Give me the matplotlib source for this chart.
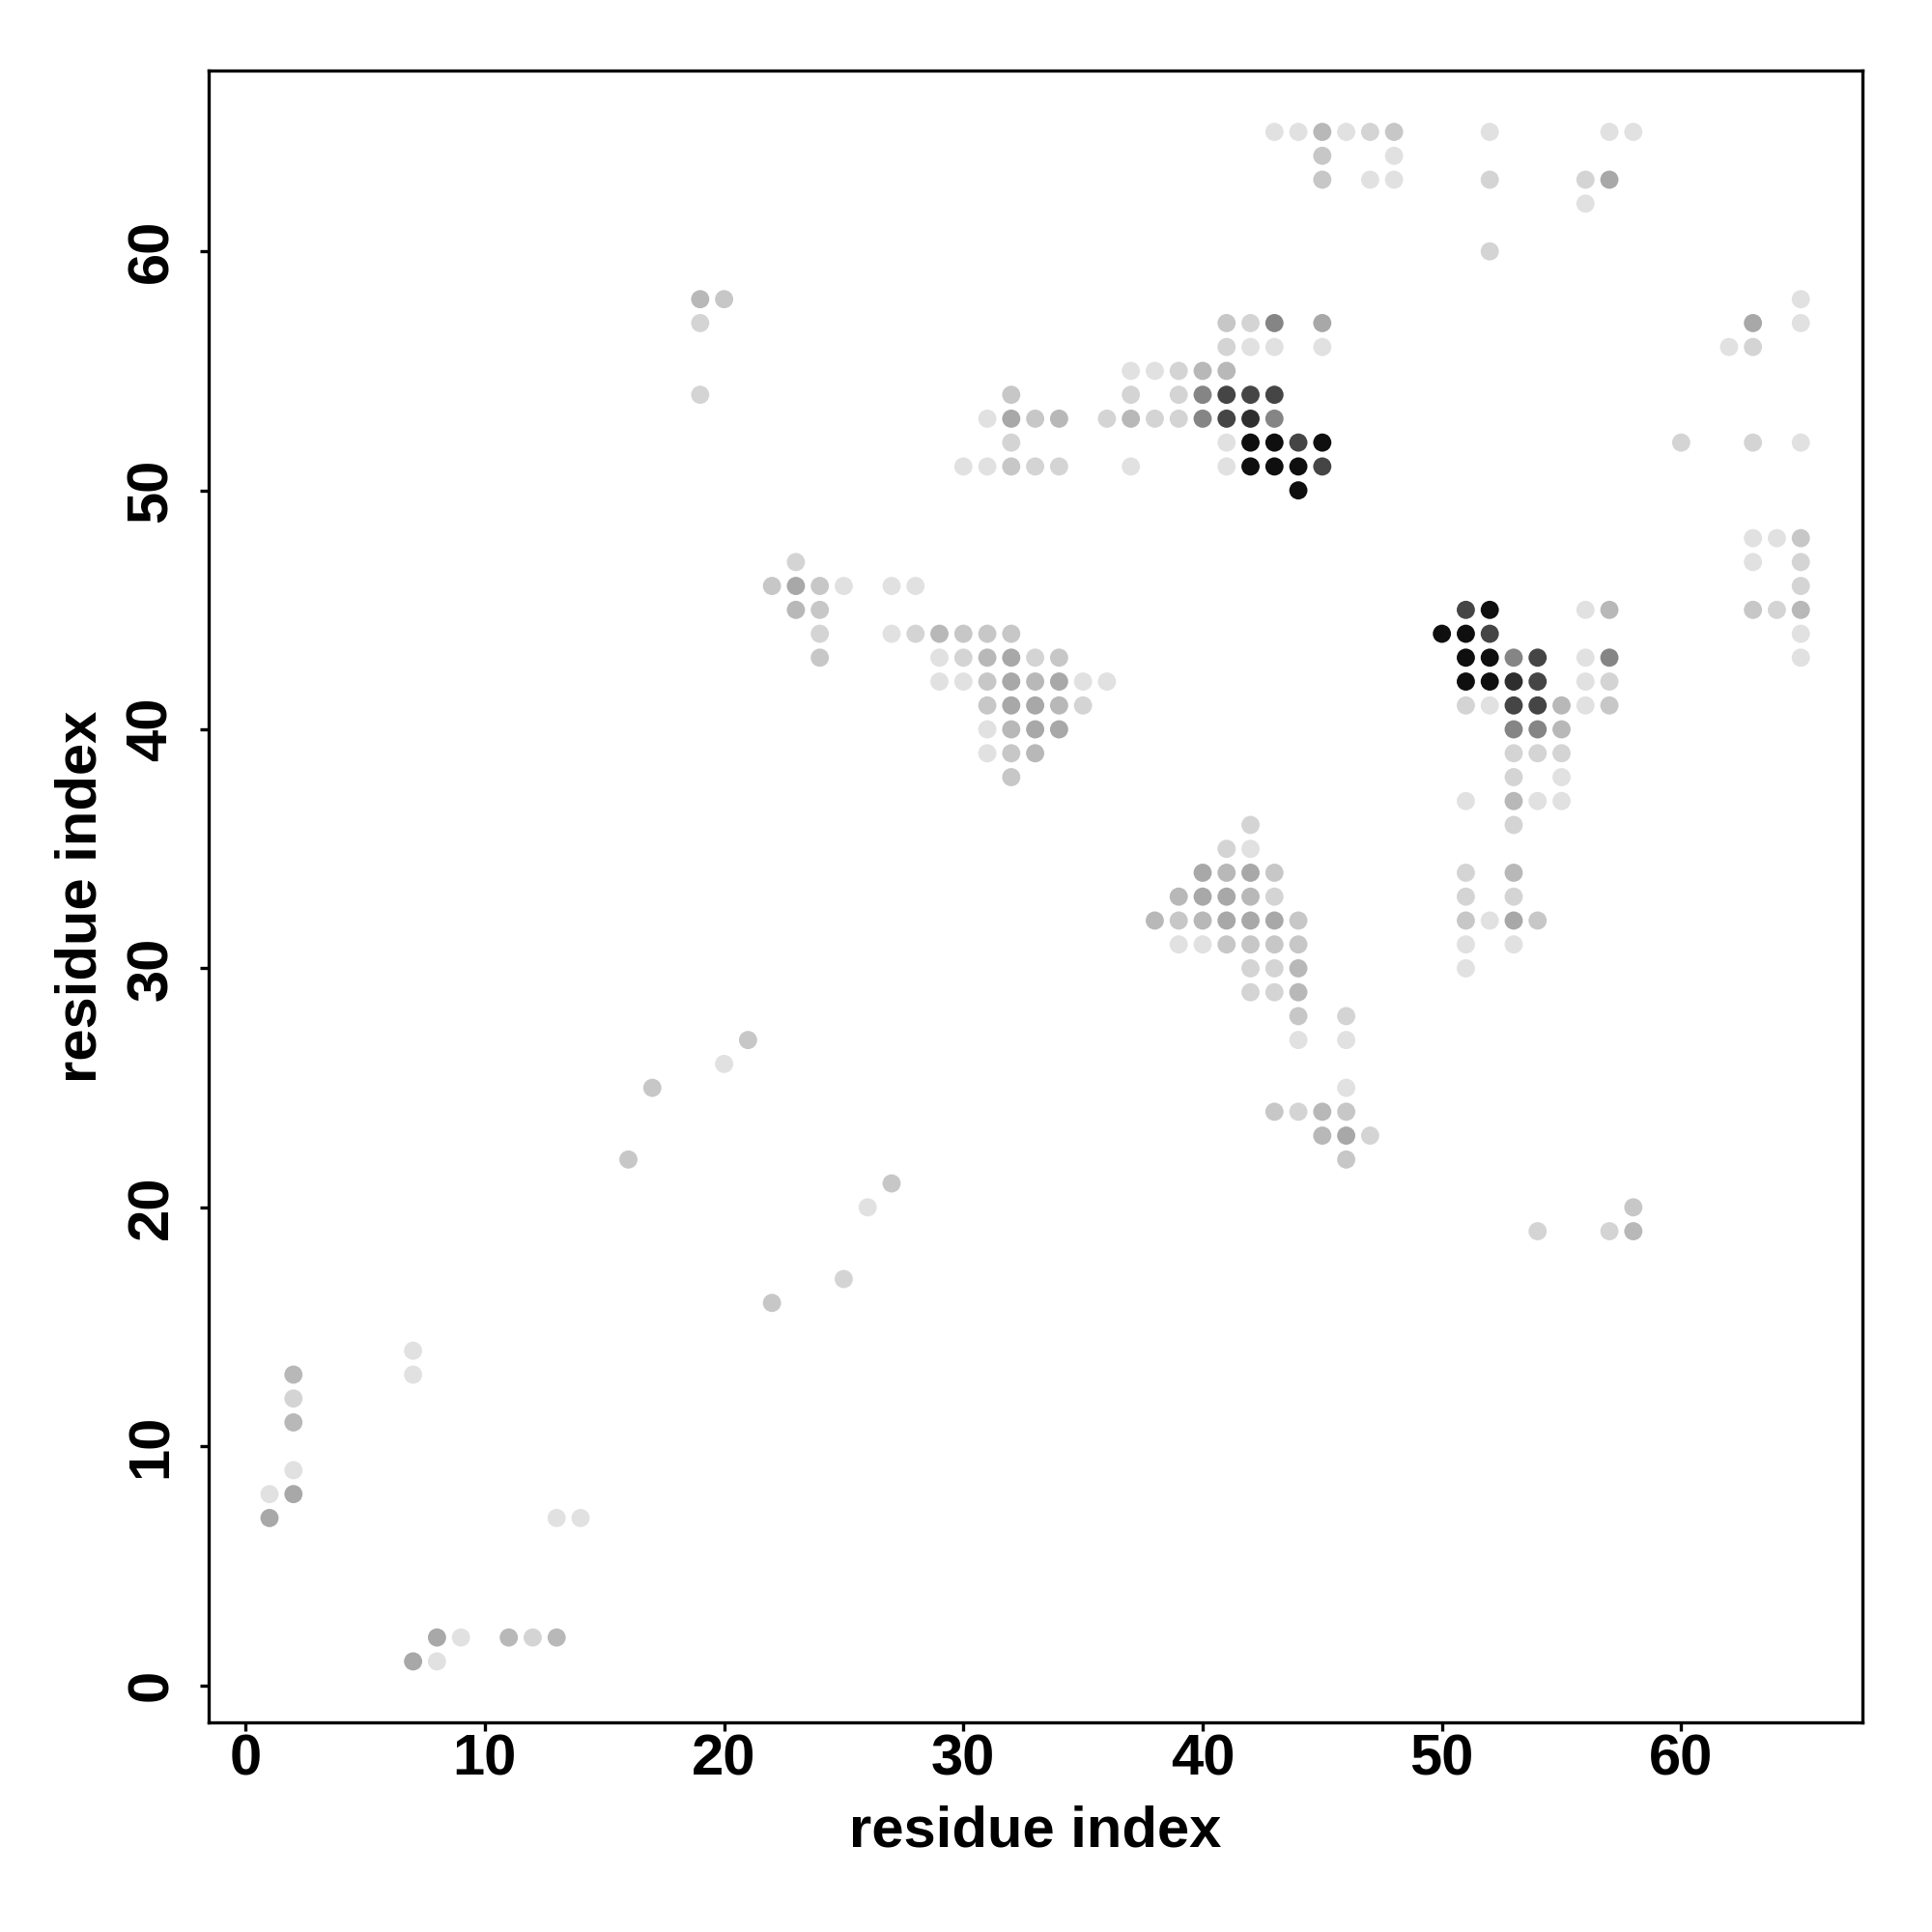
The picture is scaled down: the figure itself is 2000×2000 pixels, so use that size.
import numpy as np
import matplotlib
matplotlib.use("Agg")
import matplotlib.pyplot as plt

# predicted contacts: residue i, residue j, probability bin (1 = weak ... 9 = strong)
res_i = [
    1, 1, 2, 2, 2, 2, 2,
    7, 7, 13, 14,
    7, 8, 8, 9, 11, 12, 13,
    16, 17, 20, 21, 22, 25, 26, 27,
    19, 20, 19, 19,
    23, 22, 23, 24, 25, 27, 28, 23, 24, 24, 24,
    27, 28, 29, 30, 31, 32,
    29, 30, 31, 32, 33, 34,
    29, 30, 31, 32, 33, 34, 35, 36,
    31, 32, 33, 34, 35,
    31, 32, 33, 34,
    31, 32, 33,
    32,
    32, 31, 32, 33, 34, 36, 32, 30, 31, 32, 33, 34,
    41, 42, 43, 45,
    41, 42, 43, 45,
    37, 38, 39, 40, 41,
    37, 39, 40, 41, 42, 43,
    37, 38, 39, 40, 41, 42, 43,
    41, 42, 43, 44, 45,
    37, 41, 42, 43, 44, 45,
    44,
    43, 44, 45, 46, 47, 48, 45, 48, 45, 47, 48,
    52, 57, 58, 52, 56, 57, 56, 52,
    65, 63, 65, 62, 63, 60, 63, 65,
    63, 64, 65, 63, 65, 65, 63, 64, 65, 65, 65,
    51, 52, 56, 57,
    50, 51, 52,
    51, 52, 53, 54, 56, 57,
    51, 52, 53, 54, 56, 57,
    51, 52, 53, 54, 55, 56, 57,
    53, 54, 55,
    53, 54, 55,
    53, 55,
    51, 53, 54, 55,
    53,
    51, 53, 51, 53, 51, 52, 53, 54, 51, 53, 51,
    42,
    41, 42,
    40, 41, 42, 43,
    39, 40, 41, 42, 43,
    38, 39, 40, 41, 42, 43, 44,
    39, 40, 41, 42, 43, 44,
    42, 43, 44,
    42, 43, 44,
    44, 46, 44, 46, 46, 43, 44, 45, 46, 45, 46, 47, 46,
    58, 54, 57, 58,
]
res_j = [
    7, 8, 8, 9, 11, 12, 13,
    13, 14, 7, 7,
    1, 1, 2, 2, 2, 2, 2,
    22, 25, 26, 27, 16, 17, 20, 21,
    58, 58, 57, 54,
    47, 46, 46, 46, 46, 46, 46, 45, 45, 44, 43,
    44, 44, 44, 44, 44, 44,
    43, 43, 43, 43, 43, 43,
    42, 42, 42, 42, 42, 42, 42, 42,
    41, 41, 41, 41, 41,
    40, 40, 40, 40,
    39, 39, 39,
    38,
    54, 53, 53, 53, 53, 53, 52, 51, 51, 51, 51, 51,
    57, 57, 57, 57,
    56, 56, 56, 56,
    55, 55, 55, 55, 55,
    54, 54, 54, 54, 54, 54,
    53, 53, 53, 53, 53, 53, 53,
    52, 52, 52, 52, 52,
    51, 51, 51, 51, 51, 51,
    50,
    65, 65, 65, 65, 65, 65, 64, 64, 63, 63, 63,
    65, 65, 65, 63, 63, 63, 62, 60,
    58, 57, 57, 56, 56, 52, 52, 52,
    48, 48, 48, 47, 47, 46, 45, 45, 45, 44, 43,
    45, 45, 45, 45,
    44, 44, 44,
    43, 43, 43, 43, 43, 43,
    42, 42, 42, 42, 42, 42,
    41, 41, 41, 41, 41, 41, 41,
    40, 40, 40,
    39, 39, 39,
    38, 38,
    37, 37, 37, 37,
    36,
    34, 34, 33, 33, 32, 32, 32, 32, 31, 31, 30,
    36,
    35, 35,
    34, 34, 34, 34,
    33, 33, 33, 33, 33,
    32, 32, 32, 32, 32, 32, 32,
    31, 31, 31, 31, 31, 31,
    30, 30, 30,
    29, 29, 29,
    28, 28, 27, 27, 25, 24, 24, 24, 24, 23, 23, 23, 22,
    20, 19, 19, 19,
]
level = [
    5, 1, 5, 1, 4, 2, 4,
    1, 1, 1, 1,
    5, 1, 5, 1, 4, 2, 4,
    3, 3, 1, 3, 3, 2, 1, 3,
    4, 3, 2, 2,
    2, 3, 5, 3, 1, 1, 1, 4, 3, 2, 3,
    1, 2, 4, 3, 3, 3,
    1, 2, 4, 5, 2, 3,
    1, 1, 3, 5, 4, 5, 1, 1,
    3, 5, 5, 4, 2,
    1, 4, 5, 5,
    1, 3, 4,
    3,
    3, 1, 5, 3, 4, 2, 2, 1, 1, 3, 2, 2,
    3, 2, 6, 5,
    2, 1, 1, 1,
    1, 1, 2, 4, 4,
    2, 2, 6, 7, 7, 7,
    4, 2, 2, 6, 7, 8, 6,
    1, 9, 9, 7, 9,
    1, 1, 9, 9, 9, 7,
    9,
    1, 1, 4, 1, 2, 3, 3, 1, 3, 1, 1,
    1, 1, 1, 2, 2, 5, 1, 2,
    1, 5, 1, 1, 2, 2, 2, 1,
    1, 1, 3, 1, 2, 2, 3, 2, 4, 1, 1,
    7, 9, 1, 4,
    9, 9, 7,
    9, 9, 6, 7, 1, 6,
    9, 9, 8, 7, 1, 2,
    2, 1, 7, 7, 4, 1, 3,
    6, 6, 4,
    2, 2, 2,
    2, 1,
    1, 4, 1, 1,
    2,
    2, 4, 2, 2, 3, 1, 5, 3, 1, 1, 1,
    2,
    2, 1,
    5, 4, 5, 3,
    4, 5, 5, 4, 2,
    4, 3, 4, 5, 5, 5, 3,
    1, 1, 3, 3, 3, 3,
    2, 2, 4,
    2, 2, 4,
    3, 2, 1, 1, 1, 3, 2, 4, 3, 4, 5, 2, 3,
    3, 2, 2, 4,
]
# probability at the centre of each bin
level_prob = [0.0, 0.12, 0.17, 0.22, 0.28, 0.34, 0.48, 0.73, 0.82, 0.94]

assert len(res_i) == len(res_j) == len(level)

plt.rcParams['font.family'] = ['Liberation Sans', 'DejaVu Sans']
plt.rcParams['font.weight'] = 'bold'

prob = np.array([level_prob[l] for l in level])

fig = plt.figure(figsize=(10, 10), dpi=200)
ax = fig.add_axes([0.1078, 0.1084, 0.856, 0.855])

ax.scatter(res_i, res_j, c=prob, cmap='gray_r', vmin=0, vmax=1,
           s=46, linewidths=0)

ax.set_xlim(-1.56, 67.56)
ax.set_ylim(-1.56, 67.56)
ax.set_xticks([0, 10, 20, 30, 40, 50, 60])
ax.set_yticks([0, 10, 20, 30, 40, 50, 60])
ax.tick_params(axis='both', direction='out', length=3.2, width=1.2,
               labelsize=21.5)
ax.tick_params(axis='x', pad=0.8)
ax.tick_params(axis='y', pad=7.8)
for lab in ax.get_yticklabels():
    lab.set_rotation(90)
    lab.set_verticalalignment('center')
for sp in ax.spines.values():
    sp.set_linewidth(1.2)

ax.set_xlabel("residue index", fontsize=21.5, fontweight='bold', labelpad=6.8)
ax.set_ylabel("residue index", fontsize=21.5, fontweight='bold', labelpad=6.6)

plt.savefig("out.png", dpi=200)
plt.close()
